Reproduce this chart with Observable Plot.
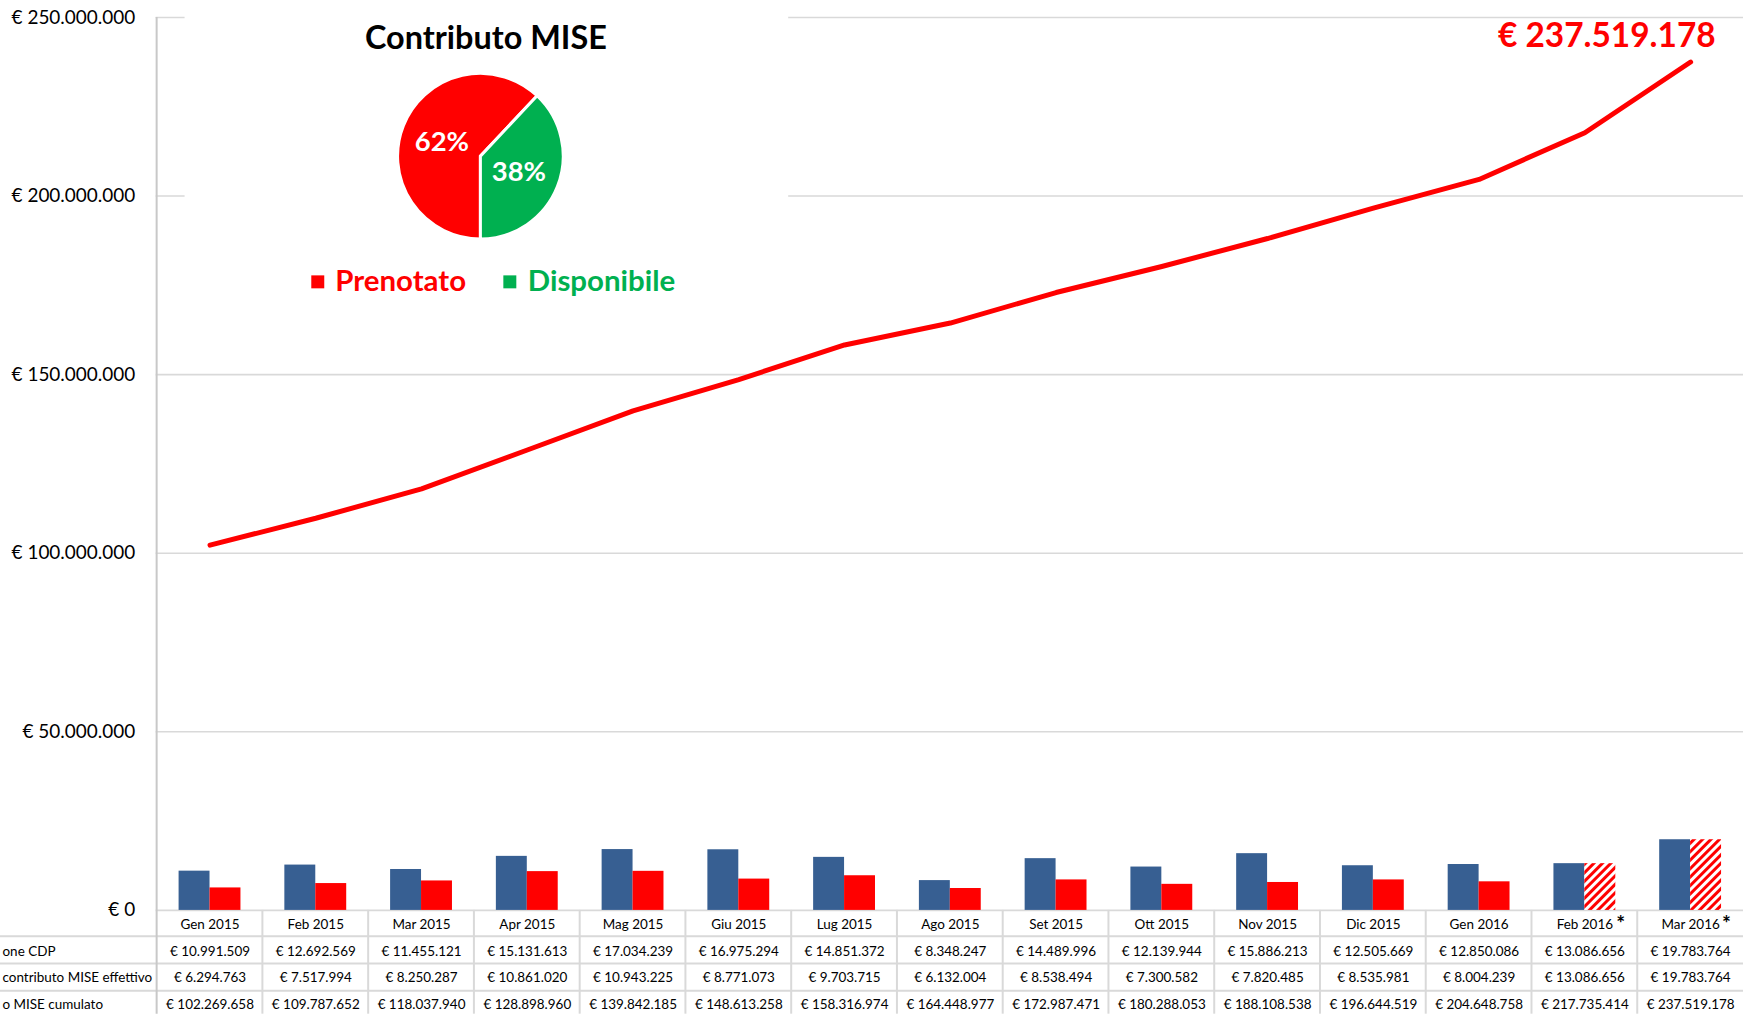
<!DOCTYPE html>
<html><head><meta charset="utf-8">
<script src="https://cdn.jsdelivr.net/npm/d3@7"></script>
<script src="https://cdn.jsdelivr.net/npm/@observablehq/plot@0.6"></script>
<style>
html,body{margin:0;padding:0;background:#fff;overflow:hidden;width:1743px;height:1016px;}
#chart svg{display:block;}
</style></head><body><div id="chart"></div>
<script>
// ---- data ----
const months = ["Gen 2015","Feb 2015","Mar 2015","Apr 2015","Mag 2015","Giu 2015","Lug 2015","Ago 2015","Set 2015","Ott 2015","Nov 2015","Dic 2015","Gen 2016","Feb 2016","Mar 2016"];
const erogazioneCDP = [10991509,12692569,11455121,15131613,17034239,16975294,14851372,8348247,14489996,12139944,15886213,12505669,12850086,13086656,19783764];
const contributoMISE = [6294763,7517994,8250287,10861020,10943225,8771073,9703715,6132004,8538494,7300582,7820485,8535981,8004239,13086656,19783764];
const contributoCumulato = [102269658,109787652,118037940,128898960,139842185,148613258,158316974,164448977,172987471,180288053,188108538,196644519,204648758,217735414,237519178];
const stimato = [false,false,false,false,false,false,false,false,false,false,false,false,false,true,true];
const rowLabels = ["one CDP","contributo MISE effettivo","o MISE cumulato"];
const pieCategories = ["Prenotato","Disponibile"];
const pieShares = [62,38];
const pieColors = ["#FF0000","#00B050"];
const yTicks = [0,50000000,100000000,150000000,200000000,250000000];
const totalLabel = "€ 237.519.178";
const chartTitle = "Contributo MISE";
const starMark = "*";

// ---- helpers ----
const it = d3.formatLocale({decimal:",", thousands:".", grouping:[3], currency:["€ ",""]});
const eur = v => "€ " + it.format(",")(v);
const rows = months.map((m,i)=>({month:m, cdp:erogazioneCDP[i], mise:contributoMISE[i], cum:contributoCumulato[i], est:stimato[i]}));
const font = "Lato, 'Open Sans', sans-serif";
const W = 1747, H = 1016;
const BLUE = "#375F92", RED = "#FF0000", GRID = "#d9d9d9";

const tableText = (accessor, dy) => Plot.text(rows, {x:"month", text:accessor, frameAnchor:"bottom", dy, fontSize:13.5, fill:"#000", lineAnchor:"middle"});
const rowLabel = (i, dy) => Plot.text([rowLabels[i]], {text:d=>d, frameAnchor:"bottom-left", dx:-154, dy, fontSize:13.5, fill:"#000", textAnchor:"start", lineAnchor:"middle"});

const plot = Plot.plot({
  width:W, height:H, marginLeft:156, marginRight:0, marginTop:17, marginBottom:104,
  style:{fontFamily:font, background:"#fff", overflow:"visible"},
  x:{type:"band", domain:months, padding:0, axis:null},
  y:{domain:[0,250000000], axis:null},
  marks:[
    Plot.gridY(yTicks, {stroke:GRID, strokeOpacity:1, strokeWidth:1.6}),
    Plot.axisY(yTicks, {tickFormat:eur, tickSize:0, tickPadding:21, fontSize:19, fill:"#000", label:null}),
    Plot.barY(rows, {x:"month", y:"cdp", fill:BLUE, insetLeft:22, insetRight:53}),
    Plot.barY(rows.filter(d=>!d.est), {x:"month", y:"mise", fill:RED, insetLeft:53, insetRight:22}),
    Plot.barY(rows.filter(d=>d.est), {x:"month", y:"mise", fill:"url(#hatchRed)", insetLeft:53, insetRight:22}),
    Plot.line(rows, {x:"month", y:"cum", stroke:RED, strokeWidth:5, strokeLinecap:"round", strokeLinejoin:"round"}),
    Plot.text(rows.slice(-1), {x:"month", y:"cum", text:()=>totalLabel, dx:-84, dy:-26, fontSize:33.5, fontWeight:"bold", fill:RED, textAnchor:"middle", lineAnchor:"middle"}),
    tableText("month", 14.5),
    Plot.text(rows.filter(d=>d.est), {x:"month", text:()=>starMark, frameAnchor:"bottom", dx:36, dy:14, fontSize:21, fontWeight:"bold", fill:"#000", lineAnchor:"middle"}),
    tableText(d=>eur(d.cdp), 41),
    tableText(d=>eur(d.mise), 67.5),
    tableText(d=>eur(d.cum), 94),
    rowLabel(0, 41), rowLabel(1, 67.5), rowLabel(2, 94)
  ]
});

document.getElementById("chart").appendChild(plot);

// ---- decorations using the plot's own scales ----
const svg = d3.select(plot);
const xs = plot.scale("x"), ys = plot.scale("y");
const y0 = ys.apply(0), yTop = ys.apply(250000000);
const xStart = xs.apply(months[0]);

// hatch pattern
const defs = svg.insert("defs", ":first-child");
const pat = defs.append("pattern").attr("id","hatchRed").attr("patternUnits","userSpaceOnUse")
  .attr("width",6).attr("height",6).attr("patternTransform","rotate(45)");
pat.append("rect").attr("width",6).attr("height",6).attr("fill","#fff");
pat.append("rect").attr("width",3).attr("height",6).attr("fill",RED);

// table grid
const tg = svg.append("g").attr("stroke",GRID).attr("stroke-width",2).attr("fill","none");
months.forEach((m,i)=>{ if(i>0) tg.append("line").attr("x1",xs.apply(m)).attr("x2",xs.apply(m)).attr("y1",y0).attr("y2",H); });
[26.3, 53.6, 81].forEach(o=>tg.append("line").attr("x1",0).attr("x2",W).attr("y1",y0+o).attr("y2",y0+o));
svg.append("line").attr("x1",xStart).attr("x2",xStart).attr("y1",yTop).attr("y2",H).attr("stroke","#c8c8c8").attr("stroke-width",2);

// pie inset box
const box = svg.append("g").attr("text-anchor","start");
box.append("rect").attr("x",185).attr("y",0).attr("width",605).attr("height",318).attr("fill","#fff");
box.append("text").attr("x",487).attr("y",49).attr("text-anchor","middle").attr("font-family",font)
  .attr("font-weight","bold").attr("font-size",32.5).attr("fill","#000").text(chartTitle);
const cx = 481.5, cy = 156.5, r = 83;
const arcs = d3.pie().value(d=>d).sort(null).startAngle(Math.PI).endAngle(3*Math.PI)(pieShares);
const arc = d3.arc().innerRadius(0).outerRadius(r);
const pg = box.append("g").attr("transform",`translate(${cx},${cy})`);
pg.selectAll("path").data(arcs).join("path").attr("d",arc).attr("fill",(d,i)=>pieColors[i]).attr("stroke","#fff").attr("stroke-width",3);
pg.selectAll("text").data(arcs).join("text").attr("transform",d=>`translate(${arc.centroid(d)})`)
  .attr("text-anchor","middle").attr("dy","0.36em").attr("font-family",font).attr("font-weight","bold")
  .attr("font-size",27.5).attr("fill","#fff").text(d=>d.data+"%");
const legX = [312, 504.5], legTX = [336, 529];
pieCategories.forEach((c,i)=>{
  box.append("rect").attr("x",legX[i]).attr("y",276).attr("width",13).attr("height",13).attr("fill",pieColors[i]);
  box.append("text").attr("x",legTX[i]).attr("y",292).attr("text-anchor","start").attr("font-family",font).attr("font-weight","bold")
    .attr("font-size",29.5).attr("fill",pieColors[i]).text(c);
});
</script></body></html>
